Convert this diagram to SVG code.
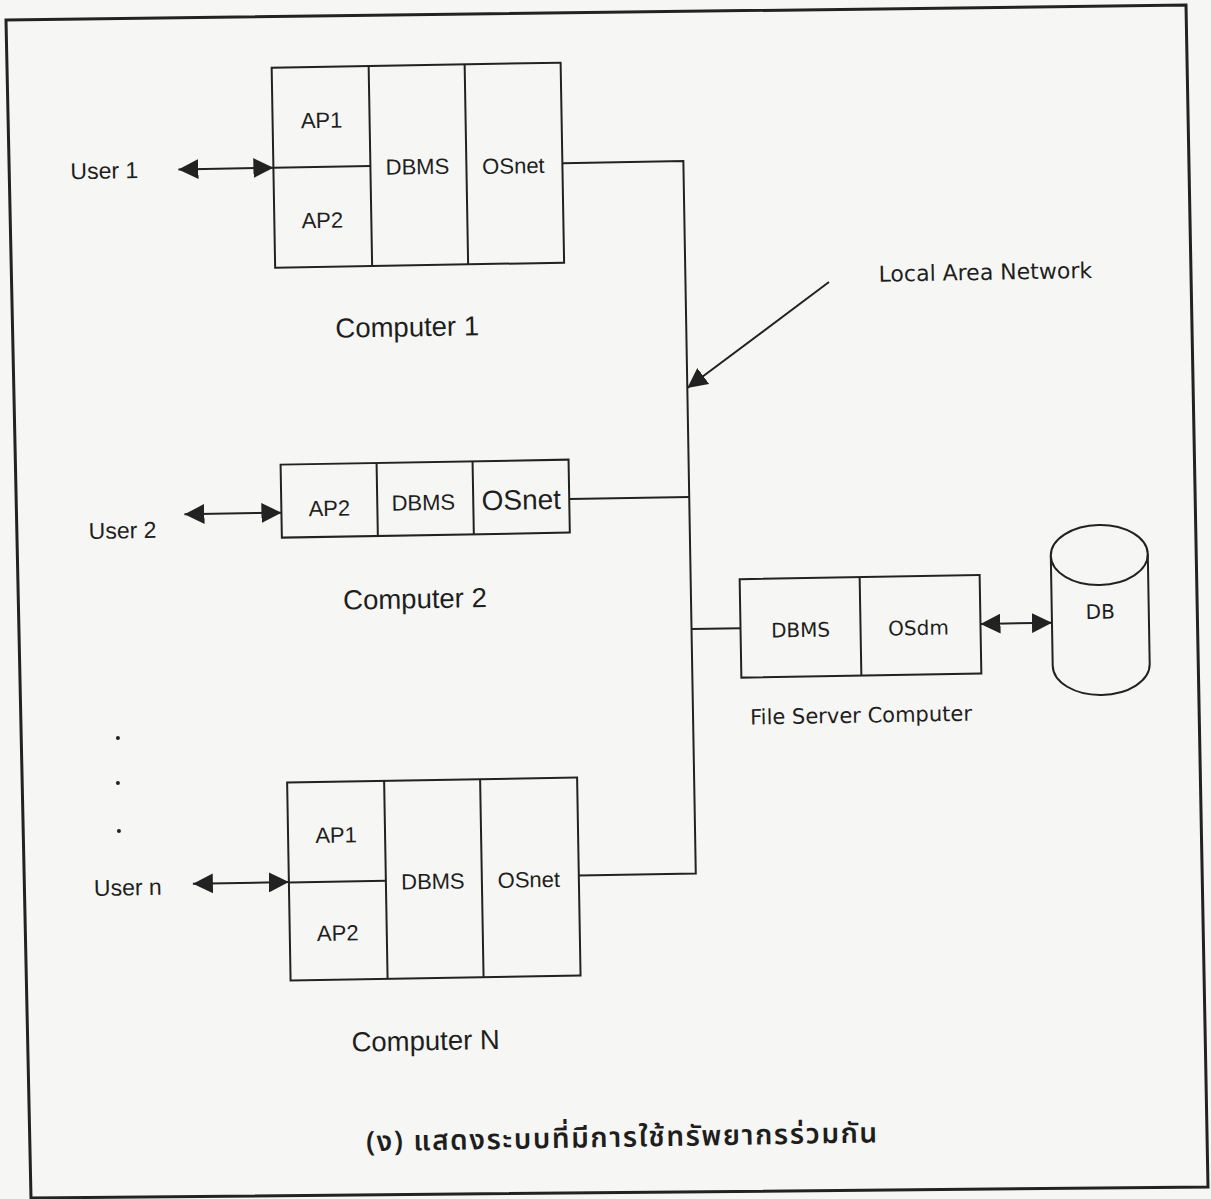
<svg xmlns="http://www.w3.org/2000/svg" width="1211" height="1199" viewBox="0 0 1211 1199">
  <style>
    .box { fill: none; stroke: #222; stroke-width: 2; }
    .ln { fill: none; stroke: #222; stroke-width: 2; }
    .sans { font-family: "Liberation Sans", Arial, sans-serif; fill: #1e1e1e; }
    .geo { font-family: "DejaVu Sans", Verdana, sans-serif; fill: #1e1e1e; }
    .cell { font-size: 22px; text-anchor: middle; }
    .user { font-size: 23px; }
    .title { font-size: 27.5px; text-anchor: middle; }
    .srv { font-size: 20px; text-anchor: middle; }
    .cap { font-family: "Noto Sans Thai", "Noto Sans", "DejaVu Sans", sans-serif; font-size: 28px; font-weight: 600; letter-spacing: 1.6px; text-anchor: middle; fill: #1e1e1e; }
  </style>
  <defs>
    <marker id="head" viewBox="0 0 20 20" refX="20" refY="10" markerUnits="userSpaceOnUse" markerWidth="20" markerHeight="20" orient="auto-start-reverse">
      <path d="M0,0 L20,10 L0,20 z" fill="#222"/>
    </marker>
  </defs>

  <!-- paper -->
  <rect width="1211" height="1199" fill="#f6f6f4"/>
  <!-- outer frame -->
  <polygon points="6,20 1186,5 1208,1187 31,1198" fill="none" stroke="#222" stroke-width="3"/>

  <g transform="rotate(-1 605 600)">
    <!-- Computer 1 -->
    <g id="computer1">
      <rect class="box" x="281" y="62" width="289" height="200"/>
      <line class="ln" x1="378" y1="62" x2="378" y2="262"/>
      <line class="ln" x1="474" y1="62" x2="474" y2="262"/>
      <line class="ln" x1="281" y1="162" x2="378" y2="162"/>
      <text class="sans cell" x="330" y="123">AP1</text>
      <text class="sans cell" x="329" y="223">AP2</text>
      <text class="sans cell" x="425" y="171">DBMS</text>
      <text class="sans cell" x="521" y="172">OSnet</text>
      <text class="sans title" x="412" y="333">Computer 1</text>
    </g>
    <g id="user1">
      <text class="sans user" x="78" y="170">User 1</text>
    </g>

    <!-- Computer 2 -->
    <g id="computer2">
      <rect class="box" x="283" y="459" width="288" height="73"/>
      <line class="ln" x1="379" y1="459" x2="379" y2="532"/>
      <line class="ln" x1="475" y1="459" x2="475" y2="532"/>
      <text class="sans cell" x="331" y="511">AP2</text>
      <text class="sans cell" x="425" y="507">DBMS</text>
      <text class="sans" x="523" y="508" font-size="28" text-anchor="middle">OSnet</text>
      <text class="sans title" x="415" y="605">Computer 2</text>
    </g>
    <g id="user2">
      <text class="sans user" x="90" y="530">User 2</text>
    </g>

    <!-- more users -->
    <g id="ellipsis" fill="#222">
      <circle cx="115.6" cy="729.5" r="2"/>
      <circle cx="114.8" cy="774.5" r="2"/>
      <circle cx="115" cy="822.5" r="2"/>
    </g>

    <!-- Computer N -->
    <g id="computerN">
      <rect class="box" x="284" y="777" width="290" height="198"/>
      <line class="ln" x1="381" y1="777" x2="381" y2="975"/>
      <line class="ln" x1="477" y1="777" x2="477" y2="975"/>
      <line class="ln" x1="284" y1="877" x2="381" y2="877"/>
      <text class="sans cell" x="332" y="838">AP1</text>
      <text class="sans cell" x="332" y="936">AP2</text>
      <text class="sans cell" x="428" y="886">DBMS</text>
      <text class="sans cell" x="524" y="886">OSnet</text>
      <text class="sans title" x="418" y="1047">Computer N</text>
    </g>
    <g id="userN">
      <text class="sans user" x="89" y="887">User n</text>
    </g>

    <!-- File server -->
    <g id="fileserver">
      <rect class="box" x="740" y="581.5" width="240" height="98.5"/>
      <line class="ln" x1="860" y1="581.5" x2="860" y2="680"/>
      <text class="geo srv" x="800" y="640.5">DBMS</text>
      <text class="geo srv" x="918" y="640.5">OSdm</text>
      <text class="geo" x="859" y="727" font-size="21" text-anchor="middle">File Server Computer</text>
    </g>

    <!-- Database -->
    <g id="db">
      <path class="box" d="M1051.5,563.6 L1051.5,673.6 A48.5,30 0 0 0 1148.5,673.6 L1148.5,563.6"/>
      <ellipse class="box" cx="1100" cy="563.6" rx="48.5" ry="30"/>
      <text class="geo srv" x="1100" y="627.5">DB</text>
    </g>

    <!-- LAN label -->
    <g id="lan">
      <text class="geo" x="991" y="286.5" font-size="22" text-anchor="middle">Local Area Network</text>
    </g>

    <!-- connectors -->
    <g id="connectors">
      <polyline class="ln" points="570,162.5 691,162.5 691,875 574,875"/>
      <line class="ln" x1="571" y1="498.5" x2="691" y2="498.5"/>
      <line class="ln" x1="691" y1="630.5" x2="740" y2="630.5"/>
      <line class="ln" x1="834.5" y1="286" x2="691" y2="389.5" marker-end="url(#head)"/>
      <line class="ln" x1="186" y1="162" x2="281" y2="162" marker-start="url(#head)" marker-end="url(#head)"/>
      <line class="ln" x1="186" y1="507" x2="283" y2="507" marker-start="url(#head)" marker-end="url(#head)"/>
      <line class="ln" x1="188" y1="876.5" x2="284" y2="876.5" marker-start="url(#head)" marker-end="url(#head)"/>
      <line class="ln" x1="980" y1="630.5" x2="1051.5" y2="630.5" marker-start="url(#head)" marker-end="url(#head)"/>
    </g>

    <!-- caption -->
    <text class="cap" x="613" y="1147">(ง) แสดงระบบที่มีการใช้ทรัพยากรร่วมกัน</text>
  </g>
</svg>
